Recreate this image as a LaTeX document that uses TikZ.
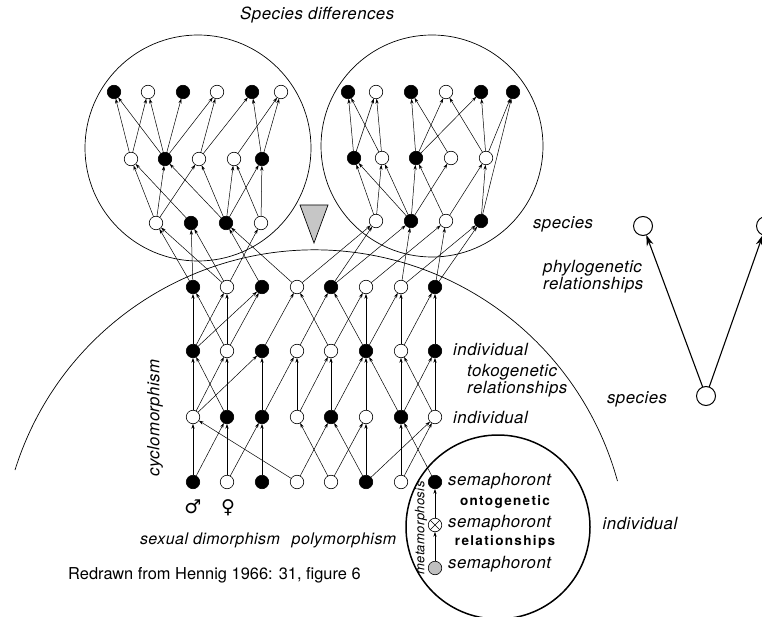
\documentclass[tikz,border=0pt]{standalone}
\usepackage{fontspec}
\setmainfont{TeX Gyre Heros}
\newfontfamily\spaced[LetterSpace=3]{TeX Gyre Heros}
\newfontfamily\boldspaced[LetterSpace=10]{TeX Gyre Heros}
\newfontfamily\symb{DejaVu Sans}
\usetikzlibrary{arrows.meta}
\tikzset{%
   dot/.style={circle, inner sep=0mm, outer sep=0mm, minimum size=13.5pt, draw=black, fill=black, line width=0.6pt},
   bigdot/.style={circle, inner sep=0mm, outer sep=0mm, minimum size=19pt, draw=black, fill=white, line width=1pt},
   link/.style={-{Stealth[length=5pt,width=3.2pt]}, line width=0.5pt},
   biglink/.style={-{Stealth[length=11pt,width=7pt]}, line width=1.1pt},
   lbl/.style={font=\fontsize{16.8}{17}\selectfont\spaced\itshape, inner sep=0pt},
   slbl/.style={font=\fontsize{13}{15}\selectfont\spaced\itshape, inner sep=0pt},
   mlbl/.style={font=\fontsize{16}{17}\selectfont\spaced\itshape, inner sep=0pt},
   blbl/.style={font=\fontsize{13.5}{16}\selectfont\boldspaced\bfseries, inner sep=0pt},
}

\begin{document}
\begin{tikzpicture}[x=1pt, y=-1pt]
   \useasboundingbox (0,0) rectangle (762,617);
   % outlines
   \draw[line width=0.7pt] (198,148) circle[radius=113];
   \draw[line width=0.7pt] (432,146) circle[radius=111];
   \draw[line width=0.7pt] (15,470) arc[start angle=197.4, end angle=344.7, radius=314];
   \draw[line width=1.5pt] (498,527) circle[radius=92];
   \draw[fill=gray!45, line width=0.7pt] (300,205) -- (328,205) -- (314,243) -- cycle;
   % species A
   \foreach \x/\f [count=\k] in {114/black,148/white,183/black,217/white,252/black,281/white}
      \node[dot, fill=\f] (a\k) at (\x,92) {};
   \foreach \x/\f [count=\k] in {131/white,165/black,199/white,234/white,262/black}
      \node[dot, fill=\f] (b\k) at (\x,159) {};
   \foreach \x/\f [count=\k] in {156/white,191/black,226/black,261/white}
      \node[dot, fill=\f] (c\k) at (\x,223) {};
   % species B
   \foreach \x/\f [count=\k] in {348/black,376/white,411/black,446/white,481/black,513/black}
      \node[dot, fill=\f] (d\k) at (\x,92) {};
   \foreach \x/\f [count=\k] in {354/black,382/white,416/black,451/white,486/white}
      \node[dot, fill=\f] (e\k) at (\x,158) {};
   \foreach \x/\f [count=\k] in {376/white,411/black,446/white,481/black}
      \node[dot, fill=\f] (f\k) at (\x,221) {};
   % generations
   \foreach \x/\f [count=\k] in {193/black,227/white,262/black,297/white,331/black,366/white,401/white,435/black}
      \node[dot, fill=\f] (g\k) at (\x,287) {};
   \foreach \x/\f [count=\k] in {193/black,227/white,262/black,297/white,331/white,366/black,401/white,435/black}
      \node[dot, fill=\f] (h\k) at (\x,351) {};
   \foreach \x/\f [count=\k] in {193/white,227/black,262/black,297/white,331/black,366/white,401/black,435/white}
      \node[dot, fill=\f] (i\k) at (\x,417) {};
   \foreach \x/\f [count=\k] in {193/black,227/white,262/black,297/white,331/white,366/black,401/white,435/black}
      \node[dot, fill=\f] (j\k) at (\x,482) {};
   % semaphoronts
   \node[dot, fill=white] (sx) at (435,525) {};
   \draw[line width=0.6pt] (sx.45) -- (sx.225) (sx.135) -- (sx.315);
   \node[dot, fill=gray!50] (sg) at (435,568) {};
   \draw[link] (sg) -- (sx);
   \draw[link] (sx) -- (j8);
   % connectors
   \foreach \u/\v in {c1/b1,c1/b2,c1/b3,c2/b1,c3/b2,c3/b3,c3/b4,c3/b5,c4/b4,c4/b5,
                      b1/a1,b1/a2,b2/a1,b2/a2,b2/a3,b2/a4,b3/a4,b3/a5,b4/a6,b5/a5,b5/a6,
                      f1/e1,f1/e2,f2/e1,f2/e2,f2/e3,f2/e4,f3/e3,f3/e5,f4/e5,f4/d6,
                      e1/d1,e1/d2,e2/d1,e2/d2,e3/d3,e3/d4,e3/d5,e4/d3,e5/d4,e5/d5,e5/d6,
                      g1/c1,g1/c2,g2/c1,g2/c2,g2/c4,g3/c3,g4/c3,g4/f1,g5/f1,g5/f2,g6/f3,g7/f2,g7/f4,g8/f3,g8/f4,
                      h1/g1,h1/g2,h1/g3,h2/g1,h2/g2,h2/g3,h3/g4,h4/g5,h5/g4,h5/g6,h6/g5,h6/g6,h6/g7,h7/g7,h7/g8,h8/g8,
                      i1/h1,i1/h2,i1/h3,i2/h1,i2/h2,i3/h3,i3/h4,i4/h4,i4/h5,i5/h5,i5/h6,i6/h6,i7/h6,i7/h7,i7/h8,i8/h7,i8/h8,
                      j1/i1,j1/i2,j2/i2,j2/i3,j3/i3,j4/i1,j4/i5,j5/i4,j5/i6,j6/i5,j6/i6,j6/i8,j7/i7,j7/i8,j8/i7}
      \draw[link] (\u) -- (\v);
   % phylogeny
   \node[bigdot] (sp0) at (706,396) {};
   \node[bigdot] (sp1) at (643,226) {};
   \node[bigdot] (sp2) at (766,226) {};
   \draw[biglink] (sp0) -- (sp1);
   \draw[biglink] (sp0) -- (sp2);
   % labels
   \node[lbl, anchor=west] (diff) at (240,15) {Species differences};
   \node[lbl] (spA) at (563,224) {species};
   \node[lbl, anchor=west, align=left] (phyl) at (543,277) {phylogenetic\\relationships};
   \node[lbl, anchor=west] (ind1) at (453,350) {individual};
   \node[lbl, anchor=west, align=left] (toko) at (467,381) {tokogenetic\\relationships};
   \node[lbl, anchor=west] (ind2) at (453,417) {individual};
   \node[lbl] (spB) at (637,399) {species};
   \node[lbl] (ind3) at (640,523) {individual};
   \node[lbl, anchor=west] (sem1) at (448,481) {semaphoront};
   \node[lbl, anchor=west] (sem2) at (448,523) {semaphoront};
   \node[lbl, anchor=west] (sem3) at (448,564) {semaphoront};
   \node[blbl] (onto) at (505,502) {ontogenetic};
   \node[blbl] (rel) at (505,542) {relationships};
   \node[slbl, rotate=90] (meta) at (421,528) {metamorphosis};
   \node[lbl, rotate=90] (cyc) at (155,418) {cyclomorphism};
   \node[font=\fontsize{19}{19}\selectfont\symb\bfseries] (male) at (193,507) {♂};
   \node[font=\fontsize{19}{19}\selectfont\symb\bfseries] (female) at (228,508) {♀};
   \node[mlbl] (sexd) at (210,540) {sexual dimorphism};
   \node[mlbl] (poly) at (344,540) {polymorphism};
   \node[font=\fontsize{16.4}{18}\selectfont, anchor=west, inner sep=0pt] (src) at (68,575) {Redrawn from Hennig 1966: 31, figure 6};
\end{tikzpicture}
\end{document}
